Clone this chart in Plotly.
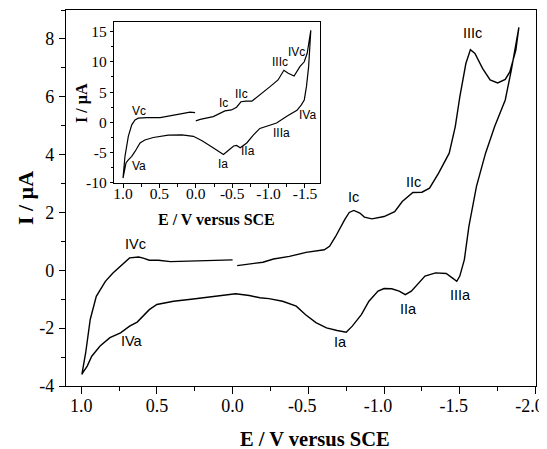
import plotly.graph_objects as go

# ---------------- main voltammogram (E in V, I in µA) ----------------
# upper (cathodic) branch, first segment: 0.0 V -> +1.0 V
main_up1_E = [0.00, 0.10, 0.26, 0.41, 0.49, 0.55, 0.59, 0.62, 0.68, 0.73, 0.79, 0.84, 0.90, 0.94, 0.97, 0.995]
main_up1_I = [0.36, 0.34, 0.31, 0.30, 0.35, 0.35, 0.42, 0.46, 0.43, 0.20, -0.09, -0.38, -0.90, -1.70, -2.85, -3.60]
# lower (anodic) branch: +1.0 V -> -1.89 V
main_low_E = [0.99, 0.96, 0.93, 0.875, 0.81, 0.74, 0.68, 0.63, 0.59, 0.55, 0.50, 0.39, 0.26, 0.15, 0.04,
              -0.02, -0.11, -0.18, -0.24, -0.33, -0.42, -0.48, -0.55, -0.62, -0.69, -0.75, -0.79, -0.85,
              -0.90, -0.96, -1.00, -1.05, -1.10, -1.14, -1.18, -1.22, -1.27, -1.34, -1.41, -1.45, -1.48,
              -1.50, -1.53, -1.56, -1.61, -1.67, -1.73, -1.80, -1.84, -1.89]
main_low_I = [-3.55, -3.31, -2.97, -2.62, -2.33, -2.16, -1.93, -1.79, -1.59, -1.36, -1.18, -1.07, -0.99, -0.92, -0.84,
              -0.81, -0.87, -0.95, -0.98, -1.07, -1.24, -1.53, -1.81, -1.99, -2.08, -2.14, -1.93, -1.53,
              -1.07, -0.72, -0.63, -0.64, -0.72, -0.84, -0.72, -0.49, -0.20, -0.09, -0.11, -0.26, -0.38,
              -0.20, 0.37, 1.52, 2.90, 4.05, 4.97, 5.89, 6.92, 8.40]
# upper (cathodic) branch, second segment: -1.89 V -> -0.03 V
main_up2_E = [-1.87, -1.83, -1.80, -1.75, -1.70, -1.65, -1.60, -1.57, -1.54, -1.50, -1.47, -1.43, -1.36,
              -1.30, -1.25, -1.19, -1.12, -1.07, -1.00, -0.92, -0.87, -0.84, -0.80, -0.77, -0.74, -0.68,
              -0.64, -0.605, -0.485, -0.375, -0.27, -0.20, -0.11, -0.03]
main_up2_I = [7.61, 6.86, 6.60, 6.48, 6.58, 6.98, 7.50, 7.63, 7.15, 6.00, 4.97, 4.05, 3.36,
              2.84, 2.70, 2.69, 2.38, 2.03, 1.86, 1.78, 1.84, 1.98, 2.07, 2.00, 1.75, 1.17,
              0.83, 0.71, 0.62, 0.48, 0.39, 0.28, 0.21, 0.16]

# ---------------- inset voltammogram ----------------
ins_up1_E = [0.01, 0.08, 0.17, 0.354, 0.49, 0.674, 0.79, 0.835, 0.88, 0.927, 0.973, 1.0]
ins_up1_I = [1.6, 1.68, 1.5, 1.07, 0.8, 0.8, 0.7, 0.4, -0.4, -2.3, -5.6, -9.2]
ins_low_E = [0.985, 0.959, 0.927, 0.88, 0.835, 0.766, 0.70, 0.584, 0.378, 0.19, 0.034, -0.08, -0.20,
             -0.30, -0.38, -0.45, -0.52, -0.56, -0.61, -0.70, -0.79, -0.88, -1.00, -1.11, -1.25,
             -1.39, -1.45, -1.49, -1.52, -1.55, -1.58]
ins_low_I = [-8.2, -6.7, -6.2, -5.6, -4.8, -3.4, -2.9, -2.5, -2.1, -2.05, -2.3, -3.0, -3.9,
             -4.7, -5.3, -4.6, -3.9, -3.8, -4.2, -3.4, -2.1, -1.0, -0.5, -0.1, 1.0,
             2.0, 2.9, 3.7, 5.9, 9.2, 15.2]
ins_up2_E = [-1.53, -1.49, -1.43, -1.35, -1.27, -1.21, -1.13, -1.02, -0.89, -0.77, -0.69, -0.62,
             -0.56, -0.49, -0.40, -0.24, -0.06, 0.0]
ins_up2_I = [11.4, 10.0, 9.2, 7.65, 8.1, 8.6, 7.0, 5.9, 4.7, 3.5, 3.5, 3.4,
             2.5, 2.05, 1.9, 0.95, 0.5, 0.25]

# tick values / labels
main_xticks = [1.0, 0.5, 0.0, -0.5, -1.0, -1.5, -2.0]
main_xticklabels = ["1.0", "0.5", "0.0", "-0.5", "-1.0", "-1.5", "-2.0"]
main_yticks = [-4, -2, 0, 2, 4, 6, 8]
main_yticklabels = ["-4", "-2", "0", "2", "4", "6", "8"]
ins_xticks = [1.0, 0.5, 0.0, -0.5, -1.0, -1.5]
ins_xticklabels = ["1.0", "0.5", "0.0", "-0.5", "-1.0", "-1.5"]
ins_yticks = [-10, -5, 0, 5, 10, 15]
ins_yticklabels = ["-10", "-5", "0", "5", "10", "15"]

x_title = "<b>E / V versus SCE</b>"
y_title = "<b>I / µA</b>"
main_peak_names = ["IVc", "IVa", "Ia", "IIa", "IIIa", "Ic", "IIc", "IIIc"]
ins_peak_names = ["Vc", "Va", "Ia", "IIa", "IIIa", "IVa", "Ic", "IIc", "IIIc", "IVc"]

SERIF = "Liberation Serif, Times New Roman, serif"
SANS = "Liberation Sans, Arial, sans-serif"

# In the original the minus sign hangs left of a centred number, so the negative
# labels are drawn by an overlaid copy of the x axis whose labels are shifted left.
pos_x = [(v, t) for v, t in zip(main_xticks, main_xticklabels) if v >= 0]
neg_x = [(v, t) for v, t in zip(main_xticks, main_xticklabels) if v < 0]

fig = go.Figure()
fig.add_trace(go.Scatter(x=main_up1_E + main_low_E + main_up2_E,
                         y=main_up1_I + main_low_I + main_up2_I,
                         mode="lines", line=dict(color="black", width=1.4), xaxis="x", yaxis="y",
                         showlegend=False, hoverinfo="skip"))
fig.add_trace(go.Scatter(x=ins_up1_E + ins_low_E + ins_up2_E,
                         y=ins_up1_I + ins_low_I + ins_up2_I,
                         mode="lines", line=dict(color="black", width=1.2), xaxis="x2", yaxis="y2",
                         showlegend=False, hoverinfo="skip"))
# empty trace so the overlaid label axis is drawn
fig.add_trace(go.Scatter(x=[], y=[], mode="lines", xaxis="x3", yaxis="y",
                         showlegend=False, hoverinfo="skip"))

# peak labels (positions are layout only)
main_label_pos = [(0.638, 0.92), (0.667, -2.45), (-0.715, -2.48), (-1.164, -1.33), (-1.505, -0.84),
                  (-0.80, 2.55), (-1.197, 3.07), (-1.586, 8.19)]
ins_label_pos = [(0.78, 1.9), (0.776, -7.27), (-0.37, -6.8), (-0.713, -4.8), (-1.18, -1.78),
                 (-1.53, 1.23), (-0.387, 3.16), (-0.63, 4.69), (-1.157, 10.0), (-1.386, 11.6)]
annotations = []
for name, (x, y) in zip(main_peak_names, main_label_pos):
    annotations.append(dict(x=x, y=y, xref="x", yref="y", text=name, showarrow=False,
                            font=dict(family=SANS, size=14.5, color="black")))
for name, (x, y) in zip(ins_peak_names, ins_label_pos):
    annotations.append(dict(x=x, y=y, xref="x2", yref="y2", text=name, showarrow=False,
                            font=dict(family=SANS, size=12, color="black")))

# axis titles placed as annotations in paper coordinates
annotations += [
    dict(x=0.529, y=-0.140, xref="paper", yref="paper", text=x_title, showarrow=False,
         xanchor="center", yanchor="middle", font=dict(family=SERIF, size=20.5, color="black")),
    dict(x=-0.087, y=0.50, xref="paper", yref="paper", text=y_title, showarrow=False, textangle=-90,
         xanchor="center", yanchor="middle", font=dict(family=SERIF, size=22, color="black")),
    dict(x=0.320, y=0.4415, xref="paper", yref="paper", text=x_title, showarrow=False,
         xanchor="center", yanchor="middle", font=dict(family=SERIF, size=16, color="black")),
    dict(x=0.034, y=0.7527, xref="paper", yref="paper", text=y_title, showarrow=False, textangle=-90,
         xanchor="center", yanchor="middle", font=dict(family=SERIF, size=16, color="black")),
]

common = dict(showgrid=False, zeroline=False, showline=True, linecolor="black", linewidth=1.3,
              mirror=True, ticks="outside", tickcolor="black", tickwidth=1.2, tickmode="array",
              automargin=False, ticklabeloverflow="allow")
main_x_range = [1.1, -2.003]
main_xfont = dict(family=SERIF, size=18, color="black")

# page body has an 8 px margin, so the plot area is shifted 8 px up/left in figure coordinates
fig.update_layout(
    width=547, height=441,
    margin=dict(l=58, r=19, t=2, b=63),
    paper_bgcolor="white", plot_bgcolor="white",
    annotations=annotations,
    xaxis=dict(**common, range=main_x_range,
               tickvals=[v for v, _ in pos_x], ticktext=[t for _, t in pos_x],
               ticklen=7, ticklabelstandoff=-4, tickfont=main_xfont,
               minor=dict(ticks="outside", tickmode="linear", tick0=0, dtick=0.25, ticklen=4,
                          tickcolor="black", tickwidth=1.2)),
    xaxis3=dict(overlaying="x", anchor="y", side="bottom", range=main_x_range,
                showgrid=False, zeroline=False, showline=False, automargin=False,
                ticklabeloverflow="allow", tickmode="array",
                tickvals=[v for v, _ in neg_x], ticktext=[t for _, t in neg_x],
                ticks="outside", ticklen=7, tickwidth=1.2, tickcolor="black",
                ticklabelstandoff=-4, ticklabelshift=6, tickfont=main_xfont),
    yaxis=dict(**common, range=[-4, 9], tickvals=main_yticks, ticktext=main_yticklabels,
               ticklen=6, ticklabelstandoff=1, tickfont=dict(family=SERIF, size=18, color="black"),
               minor=dict(ticks="outside", tickmode="linear", tick0=0, dtick=1, ticklen=4,
                          tickcolor="black", tickwidth=1.2)),
    xaxis2=dict(**common, domain=[0.1021, 0.5404], anchor="y2", range=[1.124, -1.706],
                tickvals=ins_xticks, ticktext=ins_xticklabels, ticklen=4, ticklabelstandoff=-8,
                tickfont=dict(family=SERIF, size=15.5, color="black"),
                minor=dict(ticks="outside", tickmode="linear", tick0=0, dtick=0.25, ticklen=3,
                           tickcolor="black", tickwidth=1)),
    yaxis2=dict(**common, domain=[0.540, 0.967], anchor="x2", range=[-10, 16.5],
                tickvals=ins_yticks, ticktext=ins_yticklabels, ticklen=3,
                tickfont=dict(family=SERIF, size=15.5, color="black"),
                minor=dict(ticks="outside", tickmode="linear", tick0=0, dtick=2.5, ticklen=2,
                           tickcolor="black", tickwidth=1)),
)

fig.write_html("out.html")
